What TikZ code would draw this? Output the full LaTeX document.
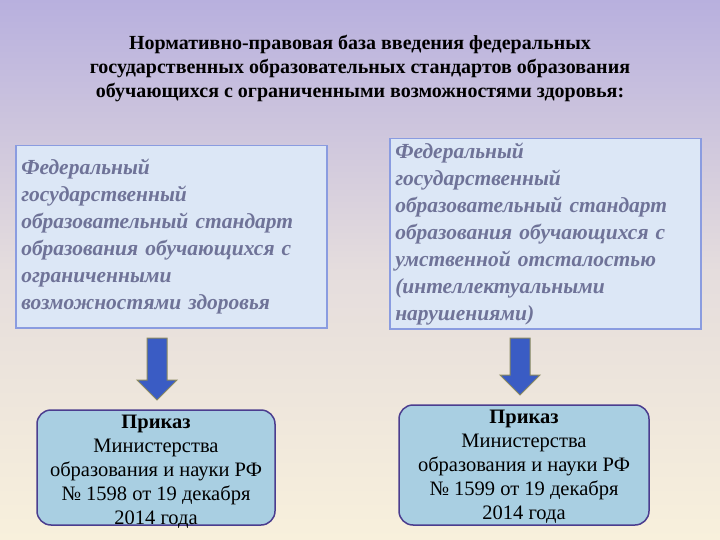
\documentclass[tikz,border=0pt]{standalone}
\usepackage{fontspec}
\setmainfont{Liberation Serif}
\definecolor{bgtop}{HTML}{B8B0DE}
\definecolor{bgbot}{HTML}{F8F0DC}
\definecolor{boxfill}{HTML}{DCE7F6}
\definecolor{boxline}{HTML}{8A9CE0}
\definecolor{boxtext}{HTML}{6F7398}
\definecolor{ordfill}{HTML}{A9CFE2}
\definecolor{ordline}{HTML}{4B3D8F}
\definecolor{arrfill}{HTML}{3A5CC4}
\definecolor{arrline}{HTML}{8A8A60}
\begin{document}
\begin{tikzpicture}[x=1pt,y=-1pt,
 bigbox/.style={draw=boxline, line width=1.5pt, fill=boxfill, inner sep=4pt, anchor=north west, text=boxtext, font=\fontsize{21.5}{27}\selectfont\bfseries\itshape, align=left},
 order/.style={draw=ordline, line width=1.5pt, fill=ordfill, rounded corners=14pt, align=center, font=\fontsize{20.5}{24}\selectfont},
 barrow/.style={fill=arrfill, draw=arrline, line width=1pt}]
\shade[top color=bgtop, bottom color=bgbot, middle color=bgbot!70!bgtop] (0,0) rectangle (720,540);
\useasboundingbox (0,0) rectangle (720,540);
\node (title) at (360,69) [align=center, font=\fontsize{20}{24}\selectfont\bfseries] {Нормативно-правовая база введения федеральных\\государственных образовательных стандартов образования\\обучающихся с ограниченными возможностями здоровья:};
\node (b1) [bigbox, minimum width=311, minimum height=182, text width=300] at (15,145) {Федеральный\\государственный\\образовательный стандарт\\образования обучающихся с\\ограниченными\\возможностями здоровья};
\node (b2) [bigbox, minimum width=311, minimum height=190, text width=300, inner ysep=2pt] at (389,138) {Федеральный\\государственный\\образовательный стандарт\\образования обучающихся с\\умственной отсталостью\\(интеллектуальными\\нарушениями)};
\draw[order] (37,410) rectangle (275,525);
\node (o1) [align=center, font=\fontsize{20.5}{24}\selectfont] at (156,472) {\textbf{Приказ}\\Министерства\\образования и науки РФ\\№ 1598 от 19 декабря\\2014 года};
\draw[order] (399,405) rectangle (649,525);
\node (o2) [align=center, font=\fontsize{20.5}{24}\selectfont] at (524,467) {\textbf{Приказ}\\Министерства\\образования и науки РФ\\№ 1599 от 19 декабря\\2014 года};
\draw[barrow] (147,338) -- (167,338) -- (167,380) -- (177,380) -- (157,400) -- (137,380) -- (147,380) -- cycle;
\draw[barrow] (510,338) -- (530,338) -- (530,375) -- (540,375) -- (520,395) -- (500,375) -- (510,375) -- cycle;
\end{tikzpicture}
\end{document}
